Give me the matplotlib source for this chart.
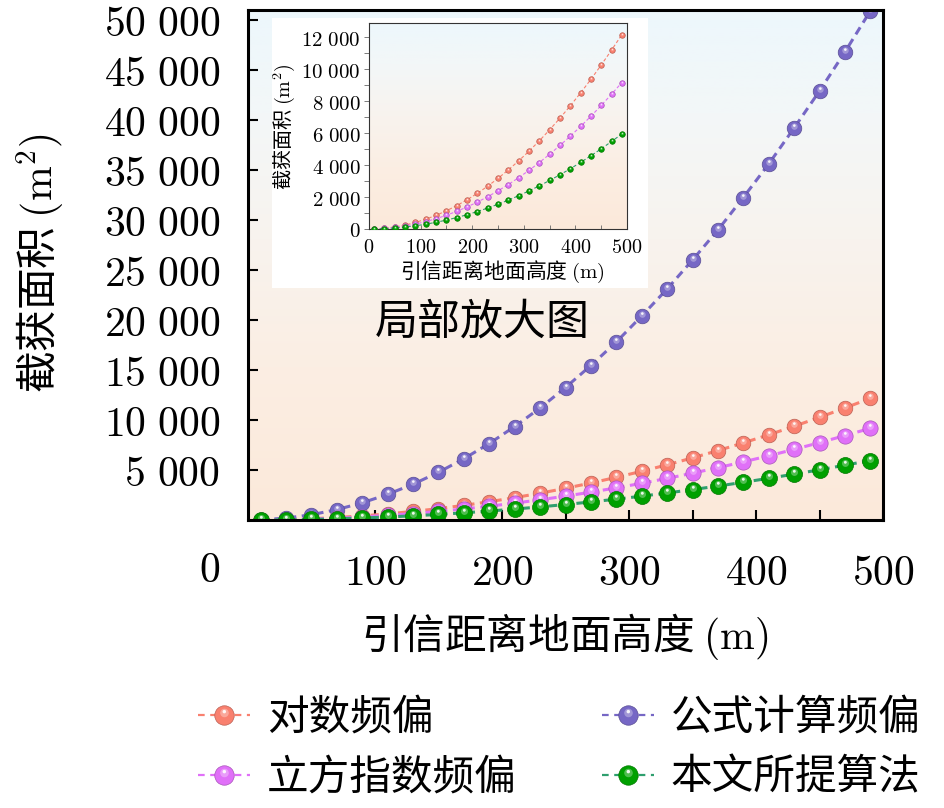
import numpy as np
import matplotlib
matplotlib.use("Agg")
import matplotlib.pyplot as plt
from matplotlib.path import Path
from matplotlib.lines import Line2D
from matplotlib.legend_handler import HandlerTuple
from matplotlib.colors import to_rgb
import matplotlib.ticker as mticker

plt.rcParams['font.family'] = ['Noto Sans CJK SC', 'DejaVu Sans']
plt.rcParams['mathtext.fontset'] = 'cm'
plt.rcParams['axes.unicode_minus'] = False

# ---------------- data ----------------
height = [10, 30, 50, 70, 90, 110, 130, 150, 170, 190, 210, 230, 250,
          270, 290, 310, 330, 350, 370, 390, 410, 430, 450, 470, 490]
log_bias = [5, 46, 127, 248, 410, 615, 857, 1140, 1465, 1830, 2235, 2680, 3170,
            3700, 4265, 4870, 5520, 6210, 6940, 7710, 8520, 9370, 10270, 11200, 12170]
formula_bias = [20, 190, 530, 1040, 1720, 2570, 3580, 4770, 6130, 7650, 9350, 11200, 13250,
                15450, 17800, 20400, 23100, 26000, 29000, 32250, 35600, 39200, 42900, 46800, 50900]
cubic_bias = [4, 34, 96, 187, 310, 462, 646, 860, 1105, 1380, 1685, 2020, 2390,
              2785, 3215, 3670, 4160, 4680, 5230, 5810, 6420, 7060, 7735, 8440, 9170]
proposed = [2, 22, 62, 122, 200, 300, 420, 558, 717, 895, 1095, 1312, 1550,
            1808, 2085, 2385, 2700, 3040, 3395, 3770, 4170, 4585, 5020, 5480, 5950]

labels = ['对数频偏', '公式计算频偏', '立方指数频偏', '本文所提算法']
colors = ['#F9806F', '#7667C5', '#E070F8', '#00A000']
line_colors = ['#F9806F', '#7667C5', '#E070F8', '#2F9F6E']
series = [log_bias, formula_bias, cubic_bias, proposed]
msizes = [10.5, 10.5, 11, 11.5]

main_xticks = [50, 100, 150, 200, 250, 300, 350, 400, 450, 500]
main_xlabels = ['', '100', '', '200', '', '300', '', '400', '', '500']
main_yticks = [5000, 10000, 15000, 20000, 25000, 30000, 35000, 40000, 45000, 50000]
inset_xticks = [0, 100, 200, 300, 400, 500]
inset_yticks = [0, 2000, 4000, 6000, 8000, 10000, 12000]


def numfmt(v, pos=None):
    v = int(round(v))
    s = f"{v:,}".replace(',', r'\ ')
    return r'$' + s + r'$'


def offset_circle(cx, cy, r):
    c = Path.circle((cx, cy), r)
    verts = np.concatenate([c.vertices, [[0, -0.5], [0, -0.5]]])
    codes = np.concatenate([c.codes, [Path.MOVETO, Path.LINETO]])
    return Path(verts, codes)


halo = offset_circle(0.0, 0.13, 0.22)
core = offset_circle(-0.01, 0.2, 0.09)


def darker(c, f=0.75):
    r, g, b = to_rgb(c)
    return (r * f, g * f, b * f)


def lighter(c, f=0.45):
    r, g, b = to_rgb(c)
    return (r + (1 - r) * f, g + (1 - g) * f, b + (1 - b) * f)


def gradient_img():
    stops = [(0.0, '#FCE9DA'), (0.3, '#FBEEE3'), (0.55, '#F8F3EE'),
             (0.8, '#F3F7F8'), (1.0, '#EDF7FC')]
    n = 256
    t = np.linspace(0, 1, n)
    pos = [s[0] for s in stops]
    cols = np.array([to_rgb(s[1]) for s in stops])
    img = np.zeros((n, 1, 3))
    for k in range(3):
        img[:, 0, k] = np.interp(t, pos, cols[:, k])
    return img[::-1]


def draw_series(ax, x, y, color, lcolor, ms, lw, dash, z):
    ax.plot(x, y, linestyle=dash, color=lcolor, lw=lw, marker='o', ms=ms,
            markerfacecolor=color, markeredgecolor=darker(color), markeredgewidth=0.5, zorder=z)
    ax.plot(x, y, linestyle='none', marker=halo, ms=ms, markerfacecolor=lighter(color, 0.35),
            markeredgewidth=0, alpha=0.9, zorder=z + 0.1)
    ax.plot(x, y, linestyle='none', marker=core, ms=ms, markerfacecolor='white',
            markeredgewidth=0, alpha=0.9, zorder=z + 0.2)


W, H = 945, 808
fig = plt.figure(figsize=(W / 100, H / 100), dpi=100)
fig.patch.set_facecolor('white')

# ---------------- main axes ----------------
ax = fig.add_axes([248 / W, 1 - 520 / H, 635 / W, 510 / H])
ax.imshow(gradient_img(), extent=(0, 500, 0, 51000), aspect='auto', zorder=0)
for i in range(4):
    draw_series(ax, height, series[i], colors[i], line_colors[i], msizes[i], 2.2,
                (0, (2.7, 1.8)), 3 + i)
ax.set_xlim(0, 500)
ax.set_ylim(0, 51000)
ax.set_xticks(main_xticks)
ax.set_xticklabels([('$' + l + '$') if l else '' for l in main_xlabels])
ax.set_yticks(main_yticks)
ax.yaxis.set_major_formatter(mticker.FuncFormatter(numfmt))
ax.tick_params(axis='both', direction='in', length=7, width=1.5, labelsize=30, colors='black')
ax.tick_params(axis='x', pad=24)
ax.tick_params(axis='y', pad=20)
for sp in ax.spines.values():
    sp.set_linewidth(2.2)
    sp.set_color('black')
    sp.set_zorder(20)

fig.text(210 / W, 1 - 570 / H, r'$0$', fontsize=30, ha='center', va='center')
fig.text(40 / W, 1 - 263 / H, r'截获面积 $(\mathrm{m}^2)$', fontsize=30, rotation=90,
         ha='center', va='center')
fig.text(565 / W, 1 - 636 / H, r'引信距离地面高度 $(\mathrm{m})$', fontsize=30,
         ha='center', va='center')
fig.text(482 / W, 1 - 322 / H, '局部放大图', fontsize=31, ha='center', va='center')

# white box behind the inset
box = fig.add_axes([272 / W, 1 - 288 / H, 376 / W, 270 / H])
box.set_facecolor('white')
box.set_xticks([])
box.set_yticks([])
for sp in box.spines.values():
    sp.set_visible(False)
box.set_zorder(4)

# ---------------- inset ----------------
ins = fig.add_axes([369 / W, 1 - 229 / H, 258 / W, 206 / H])
ins.set_zorder(5)
ins.imshow(gradient_img(), extent=(0, 500, 0, 12900), aspect='auto', zorder=0)
for i in [0, 2, 3]:
    draw_series(ins, height, series[i], colors[i], line_colors[i], 4.0, 0.8,
                (0, (3, 2)), 3 + i)
ins.set_xlim(0, 500)
ins.set_ylim(0, 12900)
ins.set_xticks(inset_xticks)
ins.xaxis.set_major_formatter(mticker.FuncFormatter(numfmt))
ins.xaxis.set_minor_locator(mticker.MultipleLocator(50))
ins.set_yticks(inset_yticks)
ins.yaxis.set_major_formatter(mticker.FuncFormatter(numfmt))
ins.yaxis.set_minor_locator(mticker.MultipleLocator(1000))
ins.tick_params(axis='x', which='both', direction='in', length=3, width=0.6, color='#666666',
                labelsize=14.5, pad=6)
ins.tick_params(axis='y', which='both', direction='out', length=3.5, width=0.6, color='#666666',
                labelsize=15, pad=2.5)
for sp in ins.spines.values():
    sp.set_linewidth(0.8)
    sp.set_color('#333333')
fig.text(284 / W, 1 - 127 / H, r'截获面积 $(\mathrm{m}^2)$', fontsize=14.5, rotation=90,
         ha='center', va='center', zorder=10)
fig.text(502 / W, 1 - 272 / H, r'引信距离地面高度 $(\mathrm{m})$', fontsize=15,
         ha='center', va='center', zorder=10)

# ---------------- legend ----------------
handles = []
for i in range(4):
    base = Line2D([], [], linestyle=(0, (3, 2.5)), color=line_colors[i], lw=1.6, marker='o', ms=14,
                  markerfacecolor=colors[i], markeredgecolor=darker(colors[i]), markeredgewidth=0.5)
    h1 = Line2D([], [], linestyle='none', marker=halo, ms=14, markerfacecolor=lighter(colors[i], 0.35),
                markeredgewidth=0, alpha=0.9)
    h2 = Line2D([], [], linestyle='none', marker=core, ms=14, markerfacecolor='white',
                markeredgewidth=0, alpha=0.9)
    handles.append((base, h1, h2))
leg_order = [0, 2, 1, 3]
fig.legend([handles[i] for i in leg_order], [labels[i] for i in leg_order],
           handler_map={tuple: HandlerTuple(ndivide=1, pad=0)},
           loc='upper left', bbox_to_anchor=(198 / W, 1 - 698 / H), ncol=2, frameon=False,
           fontsize=30, handlelength=1.25, handletextpad=0.4, columnspacing=2.05,
           labelspacing=0.45, borderpad=0, borderaxespad=0)

fig.savefig('out.png', dpi=100)
